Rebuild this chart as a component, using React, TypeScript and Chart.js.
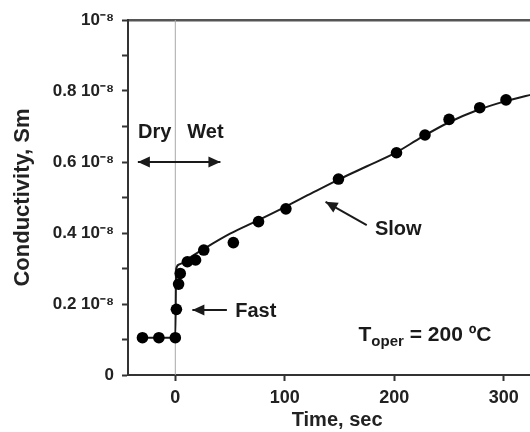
import React, { useEffect, useRef } from 'react';
import { Chart, registerables } from 'chart.js';

Chart.register(...registerables);

// Measured conductivity (units of 10^-8 Sm) vs time (sec)
const measTime = [-30, -15, 0, 1, 3, 4.5, 11, 18.5, 26, 53, 76, 101, 149, 202, 228, 250, 278, 302];
const measCond = [0.105, 0.105, 0.105, 0.185, 0.256, 0.286, 0.319, 0.324, 0.352, 0.373, 0.432, 0.468, 0.552, 0.626, 0.676, 0.72, 0.753, 0.775];

// Fitted curve
const fitTime = [-30, 0, 0.8, 4, 11, 26, 50, 75, 100, 125, 150, 175, 200, 225, 250, 275, 300, 320, 340];
const fitCond = [0.105, 0.105, 0.3, 0.312, 0.326, 0.355, 0.398, 0.435, 0.473, 0.513, 0.552, 0.588, 0.624, 0.67, 0.712, 0.745, 0.77, 0.786, 0.8];

// Wetting moment marker
const wetTime = [0, 0];
const wetCond = [0, 1];

const xTicks = [0, 100, 200, 300];
const yTicks = [0, 0.1, 0.2, 0.3, 0.4, 0.5, 0.6, 0.7, 0.8, 0.9, 1.0];
const yTickLabels: Record<number, string> = {
  0: '0',
  2: '0.2 10⁻⁸',
  4: '0.4 10⁻⁸',
  6: '0.6 10⁻⁸',
  8: '0.8 10⁻⁸',
  10: '10⁻⁸',
};

const X_MIN = -43.2;
const X_MAX = 338.7;

const FONT = '"Liberation Sans", Arial, Helvetica, sans-serif';
const INK = '#1a1a1a';

const annotationPlugin = {
  id: 'textAnnotations',
  afterDraw(chart: any) {
    const { ctx, scales } = chart;
    const X = (t: number) => scales.x.getPixelForValue(t);
    const Y = (v: number) => scales.y.getPixelForValue(v);
    ctx.save();
    ctx.fillStyle = INK;
    ctx.strokeStyle = INK;
    ctx.lineWidth = 2;
    ctx.textAlign = 'left';
    ctx.textBaseline = 'alphabetic';
    ctx.font = `bold 20px ${FONT}`;

    const head = (x1: number, y1: number, x2: number, y2: number) => {
      const a = Math.atan2(y2 - y1, x2 - x1);
      const L = 12, W = 5.5;
      ctx.beginPath();
      ctx.moveTo(x2, y2);
      ctx.lineTo(x2 - L * Math.cos(a) + W * Math.sin(a), y2 - L * Math.sin(a) - W * Math.cos(a));
      ctx.lineTo(x2 - L * Math.cos(a) - W * Math.sin(a), y2 - L * Math.sin(a) + W * Math.cos(a));
      ctx.closePath();
      ctx.fill();
    };
    const arrow = (t1: number, v1: number, t2: number, v2: number, both = false) => {
      const x1 = X(t1), y1 = Y(v1), x2 = X(t2), y2 = Y(v2);
      ctx.beginPath();
      ctx.moveTo(x1, y1);
      ctx.lineTo(x2, y2);
      ctx.stroke();
      head(x1, y1, x2, y2);
      if (both) head(x2, y2, x1, y1);
    };

    ctx.fillText('Dry', X(-34), Y(0.668));
    ctx.fillText('Wet', X(11), Y(0.668));
    arrow(-34.2, 0.6, 41.2, 0.6, true);

    ctx.fillText('Fast', X(54.7), Y(0.1625));
    arrow(47.1, 0.183, 15.6, 0.183);

    ctx.fillText('Slow', X(182.3), Y(0.394));
    arrow(174.8, 0.4225, 137.2, 0.488);

    const tx = X(167.3), ty = Y(0.0966);
    ctx.font = `bold 21px ${FONT}`;
    ctx.fillText('T', tx, ty);
    let w = ctx.measureText('T').width;
    ctx.font = `bold 15px ${FONT}`;
    ctx.fillText('oper', tx + w, ty + 5);
    w += ctx.measureText('oper').width;
    ctx.font = `bold 21px ${FONT}`;
    ctx.fillText(' = 200 ºC', tx + w, ty);
    ctx.restore();
  },
};

export default function App() {
  const canvasRef = useRef<HTMLCanvasElement>(null);

  useEffect(() => {
    if (!canvasRef.current) return;
    const points = measTime.map((t, i) => ({ x: t, y: measCond[i] }));
    const fit = fitTime.map((t, i) => ({ x: t, y: fitCond[i] }));
    const wet = wetTime.map((t, i) => ({ x: t, y: wetCond[i] }));

    const chart = new Chart(canvasRef.current, {
      type: 'line',
      data: {
        datasets: [
          {
            label: 'Measured',
            data: points,
            showLine: false,
            pointRadius: 5.8,
            pointBackgroundColor: '#000',
            pointBorderColor: '#000',
            pointBorderWidth: 0,
            order: 0,
          },
          {
            label: 'Fit',
            data: fit,
            borderColor: INK,
            borderWidth: 2,
            pointRadius: 0,
            cubicInterpolationMode: 'monotone',
            order: 1,
          },
          {
            label: 'Wet start',
            data: wet,
            borderColor: '#a8a8a8',
            borderWidth: 1,
            pointRadius: 0,
            tension: 0,
            order: 2,
          },
        ],
      },
      options: {
        responsive: false,
        devicePixelRatio: 1,
        animation: false,
        events: [],
        layout: { padding: { top: 20, right: 0, bottom: 0, left: 0 } },
        plugins: { legend: { display: false }, tooltip: { enabled: false } },
        scales: {
          x: {
            type: 'linear',
            position: 'bottom',
            min: X_MIN,
            max: X_MAX,
            afterBuildTicks: (scale: any) => {
              scale.ticks = xTicks.map((v) => ({ value: v }));
            },
            afterFit: (scale: any) => {
              scale.height = 57;
            },
            grid: { drawOnChartArea: false, drawTicks: true, tickLength: 6, tickWidth: 2, color: '#333' },
            border: { display: true, color: '#333', width: 2 },
            ticks: {
              autoSkip: false,
              maxRotation: 0,
              padding: 6,
              color: '#222',
              font: { family: FONT, size: 18, weight: 'bold' },
              callback: (v: any) => String(v),
            },
            title: {
              display: true,
              text: 'Time, sec',
              color: '#222',
              font: { family: FONT, size: 20, weight: 'bold' },
              padding: { top: 0, bottom: 0 },
            },
          },
          x2: {
            type: 'linear',
            position: 'top',
            min: X_MIN,
            max: X_MAX,
            grid: { display: false },
            ticks: { display: false },
            border: { display: true, color: '#555', width: 2.5 },
            afterFit: (scale: any) => {
              scale.height = 0;
            },
          },
          y: {
            type: 'linear',
            min: 0,
            max: 1,
            afterBuildTicks: (scale: any) => {
              scale.ticks = yTicks.map((v) => ({ value: v }));
            },
            afterFit: (scale: any) => {
              scale.width = 128;
            },
            grid: { drawOnChartArea: false, drawTicks: true, tickLength: 6, tickWidth: 2, color: '#333' },
            border: { display: true, color: '#333', width: 2 },
            ticks: {
              autoSkip: false,
              padding: 8,
              color: '#222',
              font: { family: FONT, size: 17, weight: 'bold' },
              callback: (v: any) => yTickLabels[Math.round(Number(v) * 10)] ?? '',
            },
            title: {
              display: true,
              text: 'Conductivity, Sm',
              color: '#222',
              font: { family: FONT, size: 22, weight: 'bold' },
              padding: { top: 10, bottom: 0 },
            },
          },
        },
      } as any,
      plugins: [annotationPlugin],
    });
    return () => chart.destroy();
  }, []);

  return (
    <div
      style={{
        position: 'absolute',
        left: 0,
        top: 0,
        width: 530,
        height: 432,
        overflow: 'hidden',
        background: '#fff',
      }}
    >
      <canvas ref={canvasRef} width={552} height={432} style={{ display: 'block', width: 552, height: 432 }} />
    </div>
  );
}
